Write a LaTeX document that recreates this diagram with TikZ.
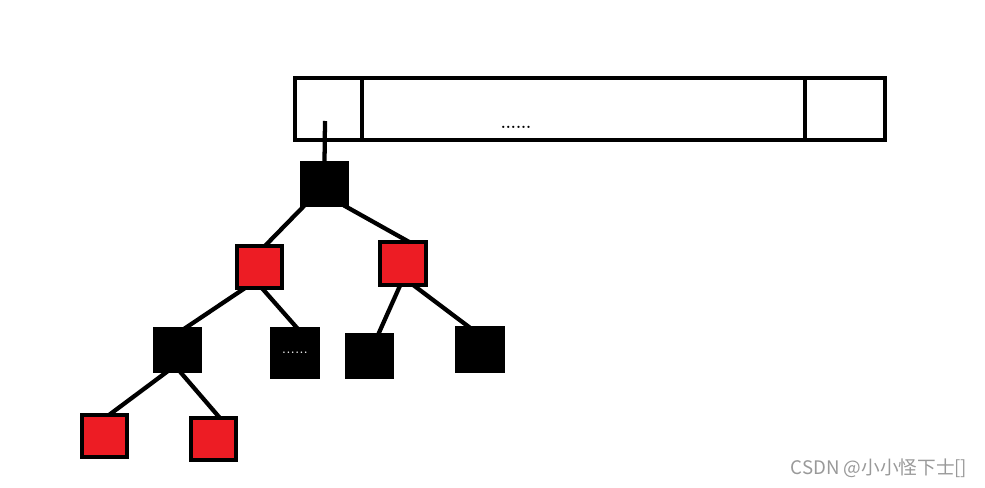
\documentclass[tikz,border=0pt]{standalone}
\usepackage{fontspec}
\newfontfamily\cjk{Noto Sans CJK SC}
\usetikzlibrary{positioning}
\definecolor{paintred}{HTML}{ED1C24}
\newcommand{\mksq}[3]{\node[#2] (#1) at (#3) {} ;}
\tikzset{
    sq/.style={
        draw,
        line width=3pt,
        minimum width=34pt,
        minimum height=32pt,
        inner sep=0,
        outer sep=0,
    },
    blacksq/.style={sq, fill=black},
    redsq/.style={sq, fill=paintred},
    cell/.style={
        draw,
        line width=3pt,
        minimum height=46.5pt,
        inner sep=0,
        outer sep=0,
    },
    link/.style={line width=3.2pt},
}
\begin{document}
\begin{tikzpicture}[x=0.75pt,y=-0.75pt]
    \useasboundingbox (0,0) rectangle (985,488);

    % the array on top
    \node[cell, minimum width=50pt] (cellfirst) at (328.5,109) {};
    \node[cell, minimum width=332pt, right=0pt of cellfirst] (cellmid) {};
    \node[cell, minimum width=60pt, right=0pt of cellmid] (celllast) {};
    \node[font=\large\bfseries, inner sep=0] (dots) at (516,127) {......};
    \coordinate (hook) at (325,121);

    % the tree
    \mksq{root}{blacksq}{324.5,184}
    \mksq{ra}{redsq}{259.5,267}
    \mksq{rb}{redsq}{403,263.5}
    \mksq{bc}{blacksq}{177.5,350}
    \node[blacksq, minimum height=36pt, text=white, font=\large] (bd) at (295,353) {......};
    \mksq{be}{blacksq}{369.5,356}
    \mksq{bf}{blacksq}{480,349.5}
    \mksq{rg}{redsq}{104.5,436}
    \mksq{rh}{redsq}{213.5,439}

    \draw[link] (hook) -- (root.north);
    \draw[link] (root.227) -- (ra.75);
    \draw[link] (root.312) -- (rb.73);
    \draw[link] (ra.235) -- (bc.72);
    \draw[link] (ra.277) -- (bd.83);
    \draw[link] (rb.263) -- (be.68);
    \draw[link] (rb.295) -- (bf.114);
    \draw[link] (bc.245) -- (rg.77);
    \draw[link] (bc.276) -- (rh.74);

    \node[anchor=east, text=black!40, font=\cjk\fontsize{14}{16}\selectfont] (mark) at (972,468) {CSDN @小小怪下士[]};
\end{tikzpicture}
\end{document}
